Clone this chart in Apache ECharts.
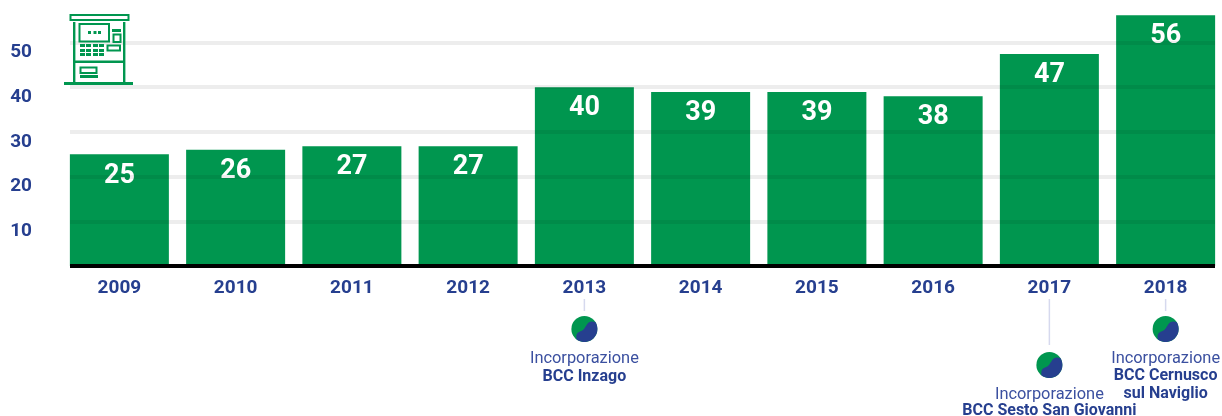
<!DOCTYPE html>
<html><head><meta charset="utf-8">
<script src="https://cdn.jsdelivr.net/npm/echarts@6/dist/echarts.min.js"></script>
<style>html,body{margin:0;padding:0;background:#fff}#c{width:1222px;height:416px}</style>
</head><body><div id="c"></div>
<script>
const years = ['2009','2010','2011','2012','2013','2014','2015','2016','2017','2018'];
const atmCounts = [25,26,27,27,40,39,39,38,47,56];
const barHeights = [25,26,26.8,26.8,40,38.9,38.9,38,47.4,56.1];
const notes = [
  {year:'2013', lines:['Incorporazione','BCC Inzago'], stemEnd:311, cy:329, textY:[359,377]},
  {year:'2017', lines:['Incorporazione','BCC Sesto San Giovanni'], stemEnd:345, cy:365, textY:[395,411]},
  {year:'2018', lines:['Incorporazione','BCC Cernusco','sul Naviglio'], stemEnd:311, cy:329, textY:[359,376,394]}
];
const GREEN='#00964f', BLUE='#263f8f', FONT='Roboto';
const chart = echarts.init(document.getElementById('c'),null,{renderer:'canvas'});
chart.setOption({
  animation:false,
  backgroundColor:'#fff',
  grid:[
    {left:61.25,width:1162.5,top:-2.2,height:268.2,outerBoundsMode:'none'},
    {left:70,width:1145,top:-2.2,height:268.2,outerBoundsMode:'none'}
  ],
  xAxis:[
    {type:'category',gridIndex:0,data:years,axisLine:{show:false},axisTick:{show:false},
     axisLabel:{color:BLUE,fontFamily:FONT,fontWeight:700,fontSize:19,margin:13}},
    {type:'category',gridIndex:1,data:years,offset:2,z:6,axisLine:{show:true,lineStyle:{color:'#000',width:4,cap:'butt'}},
     axisTick:{show:false},axisLabel:{show:false}}
  ],
  yAxis:[
    {type:'value',gridIndex:0,min:0,max:60,interval:10,axisLine:{show:false},axisTick:{show:false},
     axisLabel:{show:false},splitLine:{show:false}},
    {type:'value',gridIndex:1,min:0,max:60,interval:10,z:5,axisLine:{show:false},axisTick:{show:false},
     axisLabel:{color:BLUE,fontFamily:FONT,fontWeight:700,fontSize:19,margin:38,verticalAlign:'top',lineHeight:20,showMinLabel:false,showMaxLabel:false},
     splitLine:{show:true,lineStyle:{color:'rgba(0,0,0,0.07)',width:4}}}
  ],
  series:[{
    type:'bar',xAxisIndex:0,yAxisIndex:0,barWidth:99,z:2,
    data:barHeights.map((h,i)=>({value:h,label:{formatter:String(atmCounts[i])}})),
    itemStyle:{color:GREEN},
    label:{show:true,position:'insideTop',distance:8,color:'#fff',fontFamily:FONT,fontWeight:700,fontSize:27}
  }]
});
const els=[];
function R(x,y,w,h){els.push({type:'rect',z:10,shape:{x,y,width:w,height:h},style:{fill:GREEN}});}
function S(x,y,w,h){els.push({type:'rect',z:10,shape:{x,y,width:w,height:h},style:{fill:'none',stroke:GREEN,lineWidth:2}});}
// ATM icon
S(70.5,15,58,5); R(73,22,2.4,60); R(123,22,2.4,60); R(64,82,69,3);
S(79.5,24,29.5,17.5); R(88,31,3,3); R(93.5,31,3,3); R(98,31,3,3);
R(112,29,9,3); S(113.5,34.5,7,7.5); S(107.5,45.5,12.5,5);
[44,49,53].forEach(y=>[80,86,93,99].forEach(x=>R(x,y,5,3)));
R(75,60.5,48,2.4); S(80.5,67.5,16,5.5); R(80,75,18,3);
// logo: blue part outlined by an S curve and the outer rim
function cubic(p,steps){const o=[];for(let k=0;k<=steps;k++){const t=k/steps,u=1-t;
  o.push([u*u*u*p[0][0]+3*u*u*t*p[1][0]+3*u*t*t*p[2][0]+t*t*t*p[3][0],
          u*u*u*p[0][1]+3*u*u*t*p[1][1]+3*u*t*t*p[2][1]+t*t*t*p[3][1]]);}return o;}
const rimA=Math.atan2(-7,11), rimB=Math.atan2(10.2,-8);
const rim=[];for(let k=0;k<=40;k++){const a=rimA+(rimB-rimA)*k/40;rim.push([13*Math.cos(a),13*Math.sin(a)]);}
const logoBlue=rim.concat(
  cubic([[-8,10.2],[-9,1],[-3,4],[0,-0.5]],14),
  cubic([[0,-0.5],[3,-5],[4,-9],[11,-7]],14));
// merger notes
notes.forEach(n=>{
  const x=chart.convertToPixel({xAxisIndex:0},n.year);
  els.push({type:'line',z:10,shape:{x1:x,y1:299,x2:x,y2:n.stemEnd},style:{stroke:'#d6d9ee',lineWidth:1.5}});
  els.push({type:'circle',z:10,x,y:n.cy,shape:{cx:0,cy:0,r:13},style:{fill:GREEN}});
  els.push({type:'polygon',z:11,x,y:n.cy,shape:{points:logoBlue},style:{fill:BLUE}});
  n.lines.forEach((t,i)=>els.push({type:'text',z:10,x,y:n.textY[i],style:{text:t,fill:i===0?'#3b50a0':BLUE,
    font:(i===0?'400 16.4px ':'700 16px ')+FONT,align:'center',verticalAlign:'middle'}}));
});
chart.setOption({graphic:{elements:els}});
</script></body></html>
